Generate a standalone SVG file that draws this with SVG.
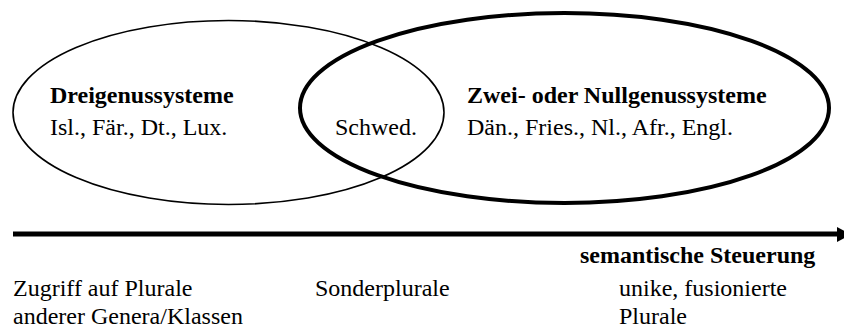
<svg xmlns="http://www.w3.org/2000/svg" width="844" height="331" viewBox="0 0 844 331">
<style>
.t{font-family:'Liberation Serif','DejaVu Serif',serif;font-size:24px;fill:#000}
.b{font-weight:bold}
.thin{fill:none;stroke:#000;stroke-width:1.6}
.thick{fill:none;stroke:#000;stroke-width:4}
</style>
<rect width="844" height="331" fill="#fff"/>
<g id="dreigenus">
<ellipse class="thin" cx="228.5" cy="112.5" rx="215.5" ry="92"/>
<text class="t b" font-family="Liberation Serif, serif" x="50" y="103">Dreigenussysteme</text>
<text class="t" font-family="Liberation Serif, serif" x="50" y="135">Isl., Fär., Dt., Lux.</text>
</g>
<g id="zweigenus">
<ellipse class="thick" cx="564.5" cy="108" rx="264.5" ry="95"/>
<text class="t b" font-family="Liberation Serif, serif" x="467" y="103">Zwei- oder Nullgenussysteme</text>
<text class="t" font-family="Liberation Serif, serif" x="467" y="135">Dän., Fries., Nl., Afr., Engl.</text>
</g>
<g id="schwed">
<text class="t" font-family="Liberation Serif, serif" x="335" y="135">Schwed.</text>
</g>
<g id="connectors">
<line x1="13" y1="234" x2="838" y2="234" stroke="#000" stroke-width="5"/>
<polygon points="837,227 851,234.5 837,242" fill="#000"/>
</g>
<g id="scale-labels">
<text class="t b" font-family="Liberation Serif, serif" x="580" y="263">semantische Steuerung</text>
<text class="t" font-family="Liberation Serif, serif" x="13" y="296">Zugriff auf Plurale</text>
<text class="t" font-family="Liberation Serif, serif" x="13" y="324">anderer Genera/Klassen</text>
<text class="t" font-family="Liberation Serif, serif" x="315" y="296">Sonderplurale</text>
<text class="t" font-family="Liberation Serif, serif" x="619" y="296">unike, fusionierte</text>
<text class="t" font-family="Liberation Serif, serif" x="619" y="324">Plurale</text>
</g>
</svg>
